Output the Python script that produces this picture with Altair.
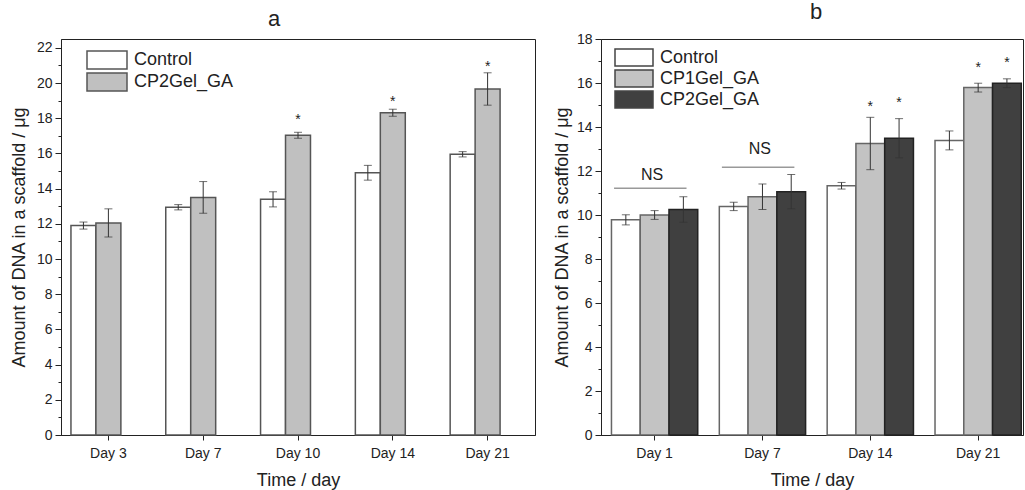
import altair as alt
import pandas as pd

FONT = "Liberation Sans"
INK = "#222222"

# ---------------- data: panel a ----------------
left_days = ["Day 3", "Day 7", "Day 10", "Day 14", "Day 21"]
left_groups = ["Control", "CP2Gel_GA"]
left_control = [11.9, 12.94, 13.39, 14.9, 15.95]
left_control_err = [0.2, 0.15, 0.43, 0.42, 0.15]
left_cp2 = [12.05, 13.5, 17.03, 18.31, 19.66]
left_cp2_err = [0.8, 0.9, 0.17, 0.2, 0.92]
left_star_days = ["Day 10", "Day 14", "Day 21"]
left_star_y = [18.2, 19.2, 21.2]

# ---------------- data: panel b ----------------
right_days = ["Day 1", "Day 7", "Day 14", "Day 21"]
right_groups = ["Control", "CP1Gel_GA", "CP2Gel_GA"]
right_control = [9.78, 10.39, 11.33, 13.39]
right_control_err = [0.23, 0.19, 0.15, 0.43]
right_cp1 = [10.0, 10.83, 13.25, 15.79]
right_cp1_err = [0.2, 0.58, 1.19, 0.2]
right_cp2 = [10.25, 11.06, 13.49, 15.99]
right_cp2_err = [0.58, 0.78, 0.89, 0.2]
right_star_days = ["Day 14", "Day 14", "Day 21", "Day 21"]
right_star_groups = ["CP1Gel_GA", "CP2Gel_GA", "CP1Gel_GA", "CP2Gel_GA"]
right_star_y = [15.15, 15.34, 16.89, 17.13]
ns_days = ["Day 1", "Day 7"]
ns_line_y = [11.22, 12.17]
ns_text_y = [11.83, 13.02]


def long_table(days, groups, means, errs):
    rows = []
    for g, m_list, e_list in zip(groups, means, errs):
        for d, m, e in zip(days, m_list, e_list):
            rows.append({"day": d, "group": g, "value": m, "lo": m - e, "hi": m + e})
    return pd.DataFrame(rows)


dfL = long_table(left_days, left_groups, [left_control, left_cp2], [left_control_err, left_cp2_err])
dfR = long_table(right_days, right_groups, [right_control, right_cp1, right_cp2],
                 [right_control_err, right_cp1_err, right_cp2_err])
starsL = pd.DataFrame({"day": left_star_days, "group": ["CP2Gel_GA"] * 3, "y": left_star_y})
starsR = pd.DataFrame({"day": right_star_days, "group": right_star_groups, "y": right_star_y})
nsR = pd.DataFrame({"day": ns_days, "line": ns_line_y, "text": ns_text_y})

Y_TITLE = "Amount of DNA in a scaffold / μg"
X_TITLE = "Time / day"
RECT = "M-1,-0.45H1V0.45H-1Z"


def y_axis(maxv, title_pad):
    return alt.Axis(
        values=list(range(0, maxv + 1)),
        labelExpr="datum.value % 2 === 0 ? datum.label : ''",
        tickSize={"condition": {"test": "datum.value % 2 !== 0", "value": 3}, "value": 6},
        grid=False,
        title=Y_TITLE,
        titlePadding=title_pad,
        labelPadding=3,
    )


def x_axis():
    return alt.Axis(labelAngle=0, grid=False, title=X_TITLE,
                    tickSize=5, labelPadding=6, titlePadding=11)


# ---------------- panel a ----------------
xL_scale = alt.Scale(domain=left_days, paddingInner=0.21, paddingOuter=0.105)
xoffL_scale = alt.Scale(domain=["Control", "CP2Gel_GA", "_pad"])
yL_scale = alt.Scale(domain=[0, 22.5], nice=False, zero=True)
yL_axis = y_axis(22, 8)
xL_axis = x_axis()

legL = alt.Legend(orient="none", legendX=25, legendY=10, title=None, symbolType=RECT,
                  symbolSize=1600, symbolStrokeWidth=1.5, symbolStrokeColor="#555555",
                  symbolOpacity=1, labelFontSize=18, labelFont=FONT, labelColor=INK,
                  clipHeight=22, rowPadding=0, padding=0, labelOffset=6)

xL = alt.X("day:N", sort=left_days, scale=xL_scale, axis=xL_axis, title=X_TITLE)
xoL = alt.XOffset("group:N", scale=xoffL_scale)


def yL(field):
    return alt.Y(field, scale=yL_scale, axis=yL_axis, title=Y_TITLE)


barsL = alt.Chart(dfL).mark_bar(stroke="#555555", strokeWidth=1.5, opacity=1).encode(
    x=xL, xOffset=xoL, y=yL("value:Q"),
    fill=alt.Fill("group:N", scale=alt.Scale(domain=left_groups, range=["#ffffff", "#c0c0c0"]), legend=legL),
)
errL = alt.Chart(dfL).mark_rule(color="#333333", strokeWidth=1).encode(
    x=xL, xOffset=xoL, y=yL("lo:Q"), y2="hi:Q",
)
capHiL = alt.Chart(dfL).mark_tick(color="#333333", size=8, thickness=1).encode(
    x=xL, xOffset=xoL, y=yL("hi:Q"),
)
capLoL = alt.Chart(dfL).mark_tick(color="#333333", size=8, thickness=1).encode(
    x=xL, xOffset=xoL, y=yL("lo:Q"),
)
starL = alt.Chart(starsL).mark_text(text="*", fontSize=14, font=FONT, color=INK,
                                    baseline="alphabetic", dy=9).encode(
    x=xL, xOffset=xoL, y=yL("y:Q"),
)
left = alt.layer(barsL, errL, capHiL, capLoL, starL).properties(
    width=474, height=396,
    title=alt.TitleParams("a", fontSize=22, font=FONT, fontWeight="normal", color=INK,
                          anchor="middle", offset=8, dx=-24),
)

# ---------------- panel b ----------------
xR_scale = alt.Scale(domain=right_days, paddingInner=0.2, paddingOuter=0.0564, align=0.86)
xoffR_scale = alt.Scale(domain=right_groups)
yR_scale = alt.Scale(domain=[0, 18], nice=False, zero=True)
yR_axis = y_axis(18, 5)
xR_axis = x_axis()

legR = alt.Legend(orient="none", legendX=13, legendY=8, title=None, symbolType=RECT,
                  symbolSize=1444, symbolStrokeWidth=1.5, symbolStrokeColor="#444444",
                  symbolOpacity=1, labelFontSize=18, labelFont=FONT, labelColor=INK,
                  clipHeight=21, rowPadding=0, padding=0, labelOffset=6)

xR = alt.X("day:N", sort=right_days, scale=xR_scale, axis=xR_axis, title=X_TITLE)
xoR = alt.XOffset("group:N", scale=xoffR_scale)


def yR(field):
    return alt.Y(field, scale=yR_scale, axis=yR_axis, title=Y_TITLE)


barsR = alt.Chart(dfR).mark_bar(strokeWidth=1.5, opacity=1).encode(
    x=xR, xOffset=xoR, y=yR("value:Q"),
    fill=alt.Fill("group:N", scale=alt.Scale(domain=right_groups,
                                             range=["#ffffff", "#c3c3c3", "#404040"]), legend=legR),
    stroke=alt.condition("datum.group === 'CP2Gel_GA'", alt.value("#222222"), alt.value("#666666")),
)
errR = alt.Chart(dfR).mark_rule(color="#333333", strokeWidth=1).encode(
    x=xR, xOffset=xoR, y=yR("lo:Q"), y2="hi:Q",
)
capHiR = alt.Chart(dfR).mark_tick(color="#333333", size=8, thickness=1).encode(
    x=xR, xOffset=xoR, y=yR("hi:Q"),
)
capLoR = alt.Chart(dfR).mark_tick(color="#333333", size=8, thickness=1).encode(
    x=xR, xOffset=xoR, y=yR("lo:Q"),
)
starR = alt.Chart(starsR).mark_text(text="*", fontSize=14, font=FONT, color=INK,
                                    baseline="alphabetic", dy=9).encode(
    x=xR, xOffset=xoR, y=yR("y:Q"),
)
nsLine = alt.Chart(nsR).mark_rule(color="#999999", strokeWidth=1.5).encode(
    x=alt.X("day:N", sort=right_days, scale=xR_scale, axis=xR_axis, title=X_TITLE, bandPosition=0.03),
    x2=alt.X2("day:N", bandPosition=0.87),
    y=yR("line:Q"),
)
nsText = alt.Chart(nsR).mark_text(text="NS", fontSize=16, font=FONT, color=INK,
                                  baseline="middle").encode(
    x=alt.X("day:N", sort=right_days, scale=xR_scale, axis=xR_axis, title=X_TITLE, bandPosition=0.47),
    y=yR("text:Q"),
)
right = alt.layer(barsR, errR, capHiR, capLoR, starR, nsLine, nsText).properties(
    width=422, height=396,
    title=alt.TitleParams("b", fontSize=22, font=FONT, fontWeight="normal", color=INK,
                          anchor="middle", offset=8, dx=4),
)

chart = alt.hconcat(left, right, spacing=16).resolve_scale(
    x="independent", y="independent", xOffset="independent", fill="independent",
).resolve_legend(fill="independent").properties(
    padding={"left": 9, "top": 0, "right": 0, "bottom": 0},
    background="white",
).configure_view(stroke=INK, strokeWidth=1).configure_axis(
    labelFont=FONT, labelFontSize=14, labelColor=INK,
    titleFont=FONT, titleFontSize=18, titleFontWeight="normal", titleColor=INK,
    domainColor=INK, tickColor=INK, domainWidth=1, tickWidth=1,
)

chart.save("out.html", embed_options={"renderer": "svg", "actions": False})
